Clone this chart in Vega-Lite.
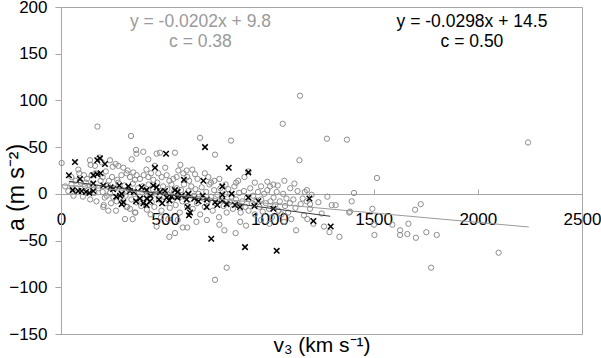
{
  "$schema": "https://vega.github.io/schema/vega-lite/v6.json",
  "width": 521,
  "height": 327,
  "autosize": "none",
  "padding": {"left": 61, "top": 7, "right": 19, "bottom": 24},
  "background": "white",
  "config": {
    "view": {"stroke": "#a6a6a6", "strokeWidth": 1},
    "font": "Liberation Sans"
  },
  "datasets": {
    "all": [
      {"x":3,"y":33},{"x":83,"y":26},{"x":88,"y":22},{"x":139,"y":36},{"x":142,"y":31},{"x":147,"y":20},{"x":163,"y":30},{"x":175,"y":72},{"x":184,"y":39},{"x":195,"y":34},
      {"x":235,"y":36},{"x":248,"y":29},{"x":262,"y":32},{"x":275,"y":30},{"x":299,"y":28},{"x":315,"y":22},{"x":331,"y":18},{"x":336,"y":62},{"x":339,"y":37},{"x":347,"y":23},
      {"x":360,"y":47},{"x":362,"y":43},{"x":363,"y":20},{"x":379,"y":16},{"x":395,"y":45},{"x":397,"y":20},{"x":419,"y":18},{"x":419,"y":37},{"x":443,"y":15},{"x":459,"y":43},
      {"x":467,"y":22},{"x":475,"y":44},{"x":483,"y":18},{"x":507,"y":20},{"x":539,"y":16},{"x":547,"y":44},{"x":563,"y":25},{"x":573,"y":31},{"x":587,"y":22},{"x":603,"y":25},
      {"x":606,"y":18},{"x":643,"y":21},{"x":667,"y":60},{"x":707,"y":18},{"x":736,"y":14},{"x":739,"y":42},{"x":816,"y":57},{"x":840,"y":12},{"x":899,"y":24},{"x":1003,"y":8},
      {"x":1019,"y":10},{"x":1064,"y":75},{"x":1072,"y":14},{"x":1144,"y":36},{"x":1147,"y":105},{"x":1276,"y":59},{"x":1372,"y":58},{"x":2241,"y":55},{"x":1516,"y":17},{"x":1406,"y":1},
      {"x":270,"y":15},{"x":230,"y":14},{"x":120,"y":12},{"x":200,"y":18},{"x":450,"y":30},
      {"x":20,"y":8},{"x":35,"y":3},{"x":50,"y":10},{"x":60,"y":-2},{"x":75,"y":6},{"x":95,"y":12},{"x":105,"y":-3},{"x":115,"y":8},{"x":130,"y":4},{"x":140,"y":-6},
      {"x":150,"y":10},{"x":160,"y":1},{"x":170,"y":-8},{"x":180,"y":6},{"x":190,"y":14},{"x":200,"y":2},{"x":205,"y":-12},{"x":210,"y":-4},{"x":219,"y":-2},{"x":225,"y":9},
      {"x":235,"y":1},{"x":240,"y":-10},{"x":251,"y":-4},{"x":258,"y":6},{"x":267,"y":-8},{"x":275,"y":12},{"x":285,"y":-5},{"x":292,"y":3},{"x":299,"y":-10},{"x":305,"y":9},
      {"x":310,"y":-2},{"x":318,"y":-14},{"x":325,"y":5},{"x":331,"y":-16},{"x":338,"y":-6},{"x":345,"y":11},{"x":352,"y":0},{"x":355,"y":-20},{"x":362,"y":-9},{"x":370,"y":6},
      {"x":378,"y":-3},{"x":385,"y":-13},{"x":392,"y":8},{"x":400,"y":-5},{"x":405,"y":3},{"x":412,"y":-17},{"x":420,"y":10},{"x":428,"y":-1},{"x":435,"y":-9},{"x":441,"y":5},
      {"x":448,"y":-14},{"x":455,"y":0},{"x":462,"y":12},{"x":470,"y":-6},{"x":476,"y":3},{"x":482,"y":-18},{"x":490,"y":8},{"x":496,"y":-3},{"x":503,"y":-10},{"x":510,"y":5},
      {"x":516,"y":-1},{"x":522,"y":-15},{"x":530,"y":10},{"x":536,"y":-6},{"x":542,"y":2},{"x":550,"y":-12},{"x":556,"y":6},{"x":562,"y":-3},{"x":570,"y":-20},{"x":576,"y":4},
      {"x":583,"y":-8},{"x":590,"y":10},{"x":597,"y":-1},{"x":605,"y":-13},{"x":612,"y":3},{"x":618,"y":-6},{"x":625,"y":8},{"x":632,"y":-16},{"x":638,"y":-2},{"x":645,"y":5},
      {"x":652,"y":-10},{"x":660,"y":0},{"x":668,"y":-22},{"x":675,"y":7},{"x":682,"y":-5},{"x":690,"y":-14},{"x":697,"y":2},{"x":705,"y":-8},{"x":712,"y":10},{"x":720,"y":-3},
      {"x":728,"y":-18},{"x":735,"y":4},{"x":742,"y":-10},{"x":750,"y":-1},{"x":758,"y":-25},{"x":765,"y":6},{"x":772,"y":-6},{"x":780,"y":-13},{"x":788,"y":0},{"x":795,"y":-20},
      {"x":803,"y":5},{"x":810,"y":-9},{"x":818,"y":-3},{"x":825,"y":-16},{"x":832,"y":8},{"x":840,"y":-6},{"x":848,"y":-12},{"x":855,"y":1},{"x":862,"y":-20},{"x":870,"y":-8},
      {"x":878,"y":3},{"x":885,"y":-14},{"x":893,"y":-4},{"x":900,"y":-18},{"x":908,"y":6},{"x":915,"y":-10},{"x":922,"y":-2},{"x":930,"y":-22},{"x":938,"y":-7},{"x":945,"y":2},
      {"x":952,"y":-14},{"x":960,"y":-6},{"x":968,"y":-19},{"x":975,"y":0},{"x":983,"y":-10},{"x":990,"y":4},{"x":998,"y":-16},{"x":1005,"y":-8},{"x":1012,"y":-25},{"x":1020,"y":-4},
      {"x":1028,"y":-12},{"x":1035,"y":2},{"x":1043,"y":-18},{"x":1050,"y":-8},{"x":1058,"y":-22},{"x":1066,"y":0},{"x":1075,"y":-13},{"x":1082,"y":-5},{"x":1090,"y":-20},{"x":1098,"y":-10},
      {"x":1105,"y":-27},{"x":1115,"y":-6},{"x":1125,"y":-15},{"x":1135,"y":3},{"x":1150,"y":-11},
      {"x":50,"y":18},{"x":70,"y":14},{"x":110,"y":20},{"x":125,"y":16},{"x":165,"y":22},{"x":215,"y":24},{"x":245,"y":18},{"x":290,"y":20},{"x":320,"y":25},{"x":355,"y":15},
      {"x":410,"y":26},{"x":432,"y":22},{"x":500,"y":28},{"x":520,"y":14},{"x":555,"y":18},{"x":615,"y":14},{"x":630,"y":26},{"x":655,"y":16},{"x":690,"y":22},{"x":720,"y":12},
      {"x":760,"y":16},{"x":790,"y":10},{"x":850,"y":14},{"x":880,"y":18},{"x":930,"y":12},{"x":960,"y":8},{"x":990,"y":13},{"x":1040,"y":9},{"x":1100,"y":6},{"x":1120,"y":11},{"x":1180,"y":4},
      {"x":203,"y":-14},{"x":227,"y":-18},{"x":264,"y":-18},{"x":307,"y":-27},{"x":344,"y":-27},{"x":315,"y":-14},{"x":357,"y":-20},{"x":459,"y":-35},{"x":515,"y":-27},{"x":520,"y":-46},
      {"x":547,"y":-42},{"x":584,"y":-36},{"x":606,"y":-36},{"x":784,"y":-39},{"x":838,"y":-42},{"x":888,"y":-34},{"x":1128,"y":-39},{"x":795,"y":-79},{"x":739,"y":-92},{"x":430,"y":-22},
      {"x":480,"y":-25},{"x":560,"y":-28},{"x":650,"y":-30},{"x":700,"y":-28},{"x":760,"y":-33},{"x":860,"y":-30},{"x":960,"y":-28},{"x":1000,"y":-32},{"x":1070,"y":-30},
      {"x":1203,"y":-1},{"x":1278,"y":-3},{"x":1179,"y":-8},{"x":1235,"y":-9},{"x":1395,"y":-8},{"x":1299,"y":-12},{"x":1318,"y":-12},{"x":1195,"y":-11},{"x":1195,"y":-16},{"x":1251,"y":-21},
      {"x":1383,"y":-20},{"x":1387,"y":-19},{"x":1494,"y":-16},{"x":1726,"y":-11},{"x":1699,"y":-17},{"x":1166,"y":-23},{"x":1182,"y":-27},{"x":1211,"y":-32},{"x":1262,"y":-35},{"x":1288,"y":-41},
      {"x":1336,"y":-46},{"x":1502,"y":-33},{"x":1590,"y":-33},{"x":1504,"y":-44},{"x":1627,"y":-39},{"x":1627,"y":-44},{"x":1667,"y":-32},{"x":1662,"y":-43},{"x":1703,"y":-47},{"x":1753,"y":-41},
      {"x":1803,"y":-44},{"x":1776,"y":-79},{"x":2100,"y":-63},{"x":1160,"y":-5},{"x":1170,"y":2}
    ],
    "sub": [
      {"x":38,"y":20},{"x":56,"y":4},{"x":67,"y":34},{"x":83,"y":3},{"x":91,"y":16},{"x":99,"y":3},{"x":120,"y":2},{"x":136,"y":1},{"x":155,"y":20},{"x":155,"y":11},
      {"x":155,"y":3},{"x":174,"y":36},{"x":174,"y":21},{"x":187,"y":38},{"x":190,"y":22},{"x":203,"y":9},{"x":211,"y":32},{"x":238,"y":7},{"x":280,"y":9},{"x":283,"y":-2},
      {"x":291,"y":0},{"x":291,"y":-11},{"x":299,"y":-9},{"x":323,"y":8},{"x":331,"y":3},{"x":379,"y":-5},{"x":387,"y":7},{"x":411,"y":4},{"x":411,"y":-5},{"x":411,"y":-12},
      {"x":427,"y":-8},{"x":430,"y":-2},{"x":443,"y":9},{"x":451,"y":28},{"x":459,"y":7},{"x":475,"y":2},{"x":499,"y":3},{"x":504,"y":43},{"x":507,"y":-4},{"x":520,"y":-7},
      {"x":547,"y":4},{"x":558,"y":-4},{"x":579,"y":-2},{"x":590,"y":15},{"x":603,"y":-6},{"x":608,"y":-14},{"x":611,"y":0},{"x":614,"y":-23},{"x":619,"y":-20},{"x":683,"y":14},
      {"x":691,"y":50},{"x":699,"y":-14},{"x":721,"y":-48},{"x":774,"y":8},{"x":774,"y":-1},{"x":774,"y":-7},{"x":795,"y":-11},{"x":805,"y":28},{"x":819,"y":0},{"x":835,"y":-12},
      {"x":859,"y":-14},{"x":883,"y":-57},{"x":899,"y":23},{"x":899,"y":-4},{"x":928,"y":-13},{"x":947,"y":-8},{"x":1019,"y":-16},{"x":1035,"y":-61},{"x":1192,"y":-5},{"x":1211,"y":-29},
      {"x":1294,"y":-35},{"x":250,"y":5},{"x":265,"y":-3},{"x":350,"y":2},{"x":360,"y":-8},{"x":395,"y":-10},{"x":470,"y":-6},{"x":485,"y":-10},{"x":530,"y":-3},{"x":560,"y":2},
      {"x":640,"y":-5},{"x":660,"y":-8},{"x":700,"y":-6},{"x":740,"y":-9},{"x":750,"y":-12},{"x":680,"y":-2}
    ],
    "fits": [
      {"series":"all","x":0,"y":9.8},{"series":"all","x":2245,"y":-35.5},
      {"series":"sub","x":38,"y":13.4},{"series":"sub","x":1292,"y":-24}
    ],
    "notes": [
      {"series":"all","x":669,"y":179,"label":"y = -0.0202x + 9.8"},
      {"series":"all","x":669,"y":157.5,"label":"c = 0.38"},
      {"series":"sub","x":1972,"y":179,"label":"y = -0.0298x + 14.5"},
      {"series":"sub","x":1972,"y":157.5,"label":"c = 0.50"}
    ]
  },
  "encoding": {
    "x": {
      "field": "x", "type": "quantitative",
      "scale": {"domain": [0, 2500], "nice": false, "zero": false},
      "axis": {
        "orient": "bottom", "offset": -140,
        "values": [0, 500, 1000, 1500, 2000, 2500], "format": "d",
        "grid": false, "domainColor": "#a6a6a6", "tickColor": "#a6a6a6", "tickSize": -5,
        "labelFont": "Liberation Sans", "labelFontSize": 17, "labelColor": "#000000",
        "labelPadding": 22, "labelFlush": false, "labelOverlap": false,
        "title": "v₃ (km s⁻¹)", "titleFont": "Liberation Sans", "titleFontSize": 21,
        "titleFontWeight": "normal", "titleColor": "#000000",
        "titleY": 157, "titleBaseline": "alphabetic"
      }
    },
    "y": {
      "field": "y", "type": "quantitative",
      "scale": {"domain": [-150, 200], "nice": false, "zero": false},
      "axis": {
        "values": [-150, -100, -50, 0, 50, 100, 150, 200], "format": "d",
        "grid": false, "domainColor": "#a6a6a6", "tickColor": "#a6a6a6", "tickSize": 6,
        "labelFont": "Liberation Sans", "labelFontSize": 17, "labelColor": "#000000",
        "labelPadding": 8, "labelOverlap": false,
        "title": "a (m s⁻²)", "titleFont": "Liberation Sans", "titleFontSize": 23,
        "titleFontWeight": "normal", "titleColor": "#000000",
        "titleX": -38, "titleY": 180, "titleBaseline": "alphabetic", "titleAngle": -90
      }
    }
  },
  "layer": [
    {
      "data": {"name": "all"},
      "mark": {"type": "point", "shape": "circle", "filled": false, "stroke": "#8c8c8c", "strokeWidth": 1, "size": 28, "opacity": 1}
    },
    {
      "data": {"name": "sub"},
      "mark": {"type": "point", "shape": "M-1,-1L1,1M-1,1L1,-1", "filled": false, "stroke": "#000000", "strokeWidth": 1.5, "size": 30, "opacity": 1}
    },
    {
      "data": {"name": "fits"},
      "transform": [{"filter": "datum.series === 'all'"}],
      "mark": {"type": "line", "color": "#9a9a9a", "strokeWidth": 1}
    },
    {
      "data": {"name": "fits"},
      "transform": [{"filter": "datum.series === 'sub'"}],
      "mark": {"type": "line", "color": "#3a3a3a", "strokeWidth": 1}
    },
    {
      "data": {"name": "notes"},
      "transform": [{"filter": "datum.series === 'all'"}],
      "mark": {"type": "text", "align": "center", "baseline": "alphabetic", "font": "Liberation Sans", "fontSize": 17.5, "color": "#9a9a9a"},
      "encoding": {"text": {"field": "label"}}
    },
    {
      "data": {"name": "notes"},
      "transform": [{"filter": "datum.series === 'sub'"}],
      "mark": {"type": "text", "align": "center", "baseline": "alphabetic", "font": "Liberation Sans", "fontSize": 17.5, "color": "#000000"},
      "encoding": {"text": {"field": "label"}}
    }
  ]
}
